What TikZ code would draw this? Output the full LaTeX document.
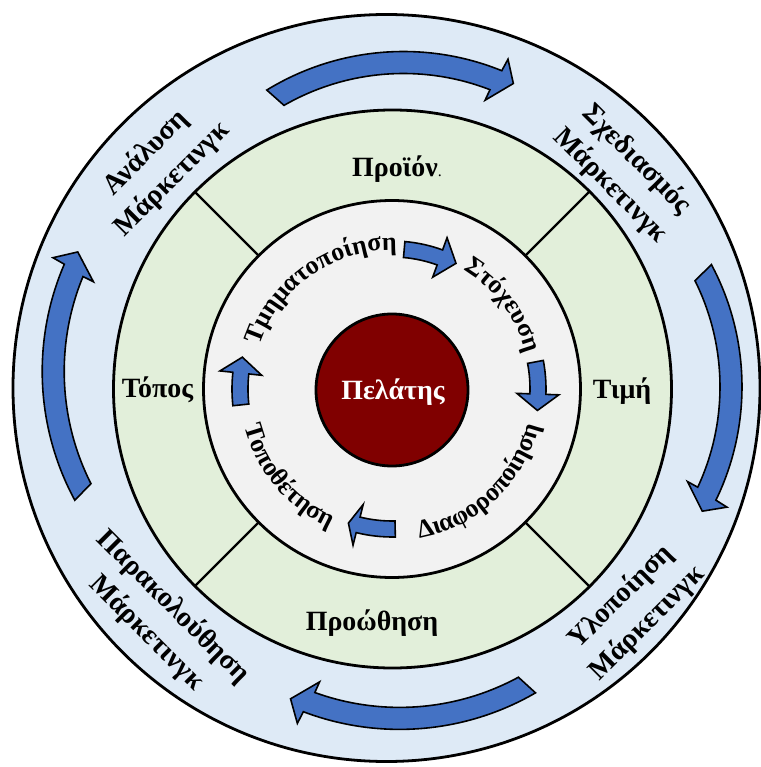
\documentclass[tikz,border=0pt]{standalone}
\usepackage{fontspec}
\setmainfont{Liberation Serif}
\usetikzlibrary{decorations.text}
\definecolor{ringblue}{RGB}{222,234,246}
\definecolor{ringgreen}{RGB}{226,239,218}
\definecolor{ringgray}{RGB}{242,242,242}
\definecolor{coremaroon}{RGB}{128,0,0}
\definecolor{arrowblue}{RGB}{68,114,196}
\newcommand\myArcFont{\fontsize{26}{26}\selectfont\bfseries}
\tikzset{
  ringline/.style={line width=2.8pt},
  arrowshape/.style={fill=arrowblue, draw=black, line width=1.6pt, line join=miter},
  ringlabel/.style={font=\fontsize{28}{28}\selectfont\bfseries, inner sep=0pt},
  outerlabel/.style={font=\fontsize{28.5}{37}\selectfont\bfseries, inner sep=0pt, align=center},
  arctext/.style={decorate, decoration={text along path, text align=center, text={|\myArcFont|#1}}}
}
% #1,#2 arc centre, #3 radius, #4 tail angle, #5 head base angle, #6 tip angle
\newcommand\myOuterArrow[6]{%
  \begin{scope}[shift={(#1,#2)}]
    \draw[arrowshape] ({#4+0.8}:{#3+11}) arc[start angle={#4+0.8}, end angle={#5-0.4}, radius={#3+11}]
      -- ({#5-0.7}:{#3+24}) -- ({#6}:{#3+4}) -- ({#5+0.7}:{#3-22.6}) -- ({#5+0.5}:{#3-11})
      arc[start angle={#5+0.5}, end angle={#4-0.8}, radius={#3-11}] -- cycle;
  \end{scope}}
% #1 radius, #2 start angle, #3 head base angle, #4 tip angle
\newcommand\myInnerArrow[4]{%
  \draw[arrowshape] ({#2}:{#1+8}) arc[start angle={#2}, end angle={#3}, radius={#1+8}]
    -- ({#3}:{#1+21}) -- ({#4}:{#1+1}) -- ({#3}:{#1-21}) -- ({#3}:{#1-8})
    arc[start angle={#3}, end angle={#2}, radius={#1-8}] -- cycle;}
\begin{document}
\begin{tikzpicture}[x=1bp, y=1bp]
\useasboundingbox (-392,-378) rectangle (369,389);
% rings
\filldraw[ringline, fill=ringblue] (-5.5,1) circle[radius=373.5];
\filldraw[ringline, fill=ringgreen] (0.5,0) circle[radius=279];
\foreach \a in {45,135,225,315} \draw[line width=2.2pt] (\a:186) -- (\a:279);
\filldraw[ringline, fill=ringgray] (0,0) circle[radius=188.5];
\filldraw[ringline, fill=coremaroon] (0,-1) circle[radius=76];
% outer cycle arrows
\myOuterArrow{11.4}{76}{250.5}{120.7}{68.3}{64.4}
\myOuterArrow{90.4}{2.2}{248.6}{27.3}{-25.5}{-29.5}
\myOuterArrow{7.6}{-69.4}{260}{-60.7}{-110.4}{-114.4}
\myOuterArrow{-78.8}{17.6}{260}{207.6}{157.1}{153.1}
% inner cycle arrows
\myInnerArrow{140}{85}{70}{63}
\myInnerArrow{146}{10.7}{-2}{-8.4}
\myInnerArrow{140}{-88.7}{-104}{-108}
\myInnerArrow{152}{186}{174}{168}
% outer ring labels
\node[outerlabel, rotate=45] (analysis) at (-233,223) {Ανάλυση\\Μάρκετινγκ};
\node[outerlabel, rotate=-45] (planning) at (231.5,216.5) {Σχεδιασμός\\Μάρκετινγκ};
\node[outerlabel, rotate=45] (implement) at (242,-221) {Υλοποίηση\\Μάρκετινγκ};
\node[outerlabel, rotate=-45] (monitor) at (-232,-231) {Παρακολούθηση\\Μάρκετινγκ};
% green ring labels
\node[ringlabel, anchor=base] (product) at (5,212) {Προϊόν\textmd{\fontsize{16}{16}\selectfont.}};
\node[ringlabel, anchor=base] (price) at (230,-9) {Τιμή};
\node[ringlabel, anchor=base] (promotion) at (-20,-241) {Προώθηση};
\node[ringlabel, anchor=base] (place) at (-234.5,-8) {Τόπος};
% centre
\node[ringlabel, anchor=base, text=white] (customer) at (1,-10) {Πελάτης};
% inner ring texts along arcs
\path[arctext=Τμηματοποίηση] (170:139) arc[start angle=170, end angle=80, radius=139];
\path[arctext=Στόχευση] (62:139) arc[start angle=62, end angle=12, radius=139];
\path[arctext=Διαφοροποίηση] (-82:152) arc[start angle=-82, end angle=-12, radius=152];
\path[arctext=Τοποθέτηση] (190:152) arc[start angle=190, end angle=250, radius=152];
\end{tikzpicture}
\end{document}
